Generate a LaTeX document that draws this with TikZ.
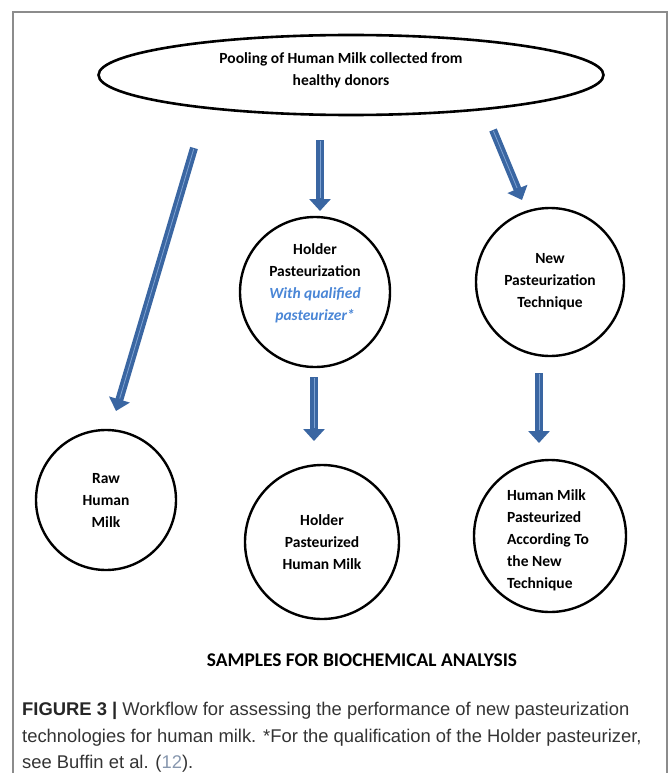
\documentclass[tikz,border=0pt]{standalone}
\usepackage{fontspec}
\setmainfont{Carlito}
\newfontfamily\capfont{Liberation Sans}
\usetikzlibrary{arrows.meta,shapes.geometric}
\definecolor{arrowblue}{HTML}{3A66A2}
\definecolor{arrowlight}{HTML}{7FA3D3}
\definecolor{qualblue}{HTML}{4A86D6}
\definecolor{framegray}{HTML}{8C8C8C}
\definecolor{capgray}{HTML}{333333}
\definecolor{refgray}{HTML}{8797AE}
\begin{document}
\begin{tikzpicture}[x=1pt,y=-1pt,
  circ/.style={circle, draw=black, line width=2.4pt, minimum size=#1, inner sep=0pt},
  circ/.default=150pt,
  lbl/.style={align=center, font=\bfseries\fontsize{15.5}{22}\selectfont, inner sep=0pt},
  barrow/.style={draw=arrowblue, line width=8pt, -{Triangle[width=21pt,length=12pt]},
    postaction={draw=arrowlight, line width=0.8pt, shorten >=13pt, shorten <=1pt, -}},
  capline/.style={anchor=base west, inner sep=0pt, text=capgray, font=\capfont\fontsize{18.4}{27}\selectfont}]
\useasboundingbox (0,0) rectangle (670,773);
% frame
\draw[framegray, line width=1.5pt] (13,773) -- (13,12) -- (667,12) -- (667,773);
% top ellipse
\node[ellipse, draw=black, line width=2.6pt, minimum width=505pt, minimum height=80pt,
      inner sep=0pt] (pool) at (351,75) {};
\node[lbl] (pooltxt) at (341,70) {Pooling of Human Milk collected from\\healthy donors};
% middle row
\node[circ] (hp) at (315,292) {};
\node[lbl] (hptxt) at (315,283) {Holder\\Pasteurization\\\textcolor{qualblue}{\itshape With qualified}\\\textcolor{qualblue}{\itshape pasteurizer*}};
\node[circ=148pt, lbl] (np) at (550,282) {New\\Pasteurization\\Technique};
% bottom row
\node[circ=140pt, lbl] (raw) at (106,500) {Raw\\Human\\Milk};
\node[circ=154pt, lbl] (hpm) at (322,542) {Holder\\Pasteurized\\Human Milk};
\node[circ=152pt] (npm) at (550,536) {};
\node[lbl, align=left] (npmtxt) at (548,540) {Human Milk\\Pasteurized\\According To\\the New\\Technique};
% arrows
\coordinate (a1s) at (194,148); \coordinate (a1e) at (116,411);
\coordinate (a2s) at (320,140); \coordinate (a2e) at (320,211);
\coordinate (a3s) at (493,130); \coordinate (a3e) at (522,200);
\coordinate (a4s) at (314,377); \coordinate (a4e) at (314,441);
\coordinate (a5s) at (539,373); \coordinate (a5e) at (539,443);
\draw[barrow] (a1s) -- (a1e);
\draw[barrow] (a2s) -- (a2e);
\draw[barrow] (a3s) -- (a3e);
\draw[barrow] (a4s) -- (a4e);
\draw[barrow] (a5s) -- (a5e);
% footer
\node[font=\bfseries\fontsize{19.4}{22}\selectfont, inner sep=0pt] (samples) at (362,660) {SAMPLES FOR BIOCHEMICAL ANALYSIS};
\node[capline] (cap1) at (22,715) {\textbf{\textcolor{black!85}{FIGURE 3 |}} Workflow for assessing the performance of new pasteurization};
\node[capline] (cap2) at (22,742) {technologies for human milk. *For the qualification of the Holder pasteurizer,};
\node[capline] (cap3) at (22,768) {see Buffin et al. (\textcolor{refgray}{12}).};
\end{tikzpicture}
\end{document}
